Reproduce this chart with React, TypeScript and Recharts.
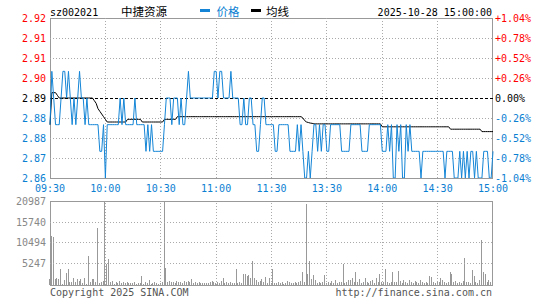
import React from 'react';
import { ComposedChart, BarChart, Line, Bar, XAxis, YAxis, ReferenceLine, ReferenceArea } from 'recharts';

const PREV_CLOSE = 2.89;

const PRICE = [
  2.88,2.90,2.89,2.88,2.88,2.88,2.89,2.90,2.90,2.89,
  2.90,2.89,2.88,2.89,2.88,2.89,2.90,2.89,2.89,2.88,
  2.89,2.88,2.88,2.88,2.88,2.88,2.88,2.87,2.87,2.88,
  2.86,2.88,2.88,2.88,2.88,2.88,2.88,2.88,2.89,2.88,
  2.89,2.88,2.88,2.88,2.88,2.88,2.89,2.88,2.88,2.88,
  2.88,2.88,2.87,2.88,2.87,2.88,2.87,2.87,2.87,2.87,
  2.87,2.87,2.88,2.89,2.89,2.89,2.88,2.89,2.89,2.89,
  2.88,2.89,2.88,2.88,2.89,2.90,2.89,2.89,2.89,2.89,
  2.89,2.89,2.89,2.89,2.89,2.89,2.89,2.89,2.89,2.90,
  2.90,2.89,2.90,2.90,2.89,2.89,2.89,2.89,2.90,2.89,
  2.89,2.89,2.89,2.88,2.88,2.89,2.88,2.88,2.89,2.89,
  2.88,2.88,2.87,2.87,2.88,2.89,2.89,2.88,2.88,2.88,
  2.88,2.88,2.87,2.87,2.88,2.88,2.88,2.88,2.88,2.88,
  2.87,2.87,2.87,2.87,2.88,2.87,2.88,2.87,2.86,2.86,
  2.87,2.86,2.87,2.88,2.88,2.87,2.88,2.87,2.88,2.88,
  2.87,2.87,2.88,2.88,2.88,2.88,2.88,2.88,2.87,2.87,
  2.87,2.87,2.87,2.88,2.88,2.88,2.88,2.88,2.88,2.87,
  2.87,2.87,2.87,2.88,2.88,2.88,2.88,2.88,2.88,2.88,
  2.87,2.87,2.87,2.88,2.87,2.88,2.86,2.86,2.88,2.87,
  2.88,2.86,2.86,2.88,2.87,2.88,2.87,2.87,2.87,2.87,
  2.87,2.86,2.87,2.87,2.87,2.87,2.87,2.87,2.87,2.87,
  2.87,2.87,2.87,2.87,2.86,2.87,2.87,2.87,2.87,2.86,
  2.86,2.86,2.87,2.86,2.87,2.86,2.87,2.86,2.87,2.87,
  2.86,2.87,2.86,2.86,2.86,2.87,2.87,2.87,2.86,2.86,
  2.87,
];

const AVG = [
  2.880,2.892,2.892,2.892,2.891,2.890,2.890,2.890,2.890,2.890,
  2.890,2.890,2.890,2.890,2.890,2.890,2.890,2.890,2.890,2.890,
  2.890,2.890,2.890,2.890,2.889,2.888,2.886,2.885,2.884,2.883,
  2.882,2.881,2.881,2.881,2.881,2.881,2.881,2.881,2.881,2.881,
  2.881,2.881,2.882,2.882,2.882,2.882,2.882,2.882,2.882,2.882,
  2.881,2.881,2.881,2.881,2.881,2.881,2.881,2.881,2.881,2.881,
  2.881,2.881,2.882,2.882,2.882,2.882,2.882,2.882,2.882,2.883,
  2.883,2.883,2.883,2.883,2.883,2.883,2.883,2.883,2.883,2.883,
  2.883,2.883,2.883,2.883,2.883,2.883,2.883,2.883,2.883,2.883,
  2.883,2.883,2.883,2.883,2.883,2.883,2.883,2.883,2.883,2.883,
  2.883,2.883,2.883,2.883,2.883,2.883,2.883,2.883,2.883,2.883,
  2.883,2.883,2.883,2.883,2.883,2.883,2.883,2.883,2.883,2.883,
  2.883,2.883,2.883,2.883,2.883,2.883,2.883,2.883,2.883,2.883,
  2.883,2.883,2.883,2.883,2.883,2.883,2.883,2.8825,2.8815,2.881,
  2.8808,2.8806,2.8805,2.8803,2.8803,2.8803,2.8803,2.8803,2.8803,2.8803,
  2.8803,2.8803,2.8803,2.8803,2.8803,2.8803,2.8803,2.8803,2.8803,2.8803,
  2.8803,2.8803,2.8803,2.8803,2.8803,2.8803,2.8803,2.8803,2.8803,2.8803,
  2.8803,2.8803,2.8803,2.8803,2.8803,2.8803,2.8803,2.8803,2.8803,2.8803,
  2.8792,2.8792,2.8792,2.8792,2.8792,2.8792,2.8792,2.8792,2.8792,2.8792,
  2.8792,2.8792,2.8792,2.8792,2.8792,2.8792,2.8792,2.8792,2.8792,2.8792,
  2.8792,2.8792,2.8792,2.8792,2.8792,2.8792,2.8792,2.8792,2.8792,2.8792,
  2.8792,2.8792,2.8792,2.8792,2.8792,2.8792,2.8792,2.8783,2.8783,2.8783,
  2.8783,2.8783,2.8783,2.8783,2.8783,2.8783,2.8783,2.8783,2.8783,2.8783,
  2.8783,2.8783,2.8783,2.8783,2.8774,2.8774,2.8774,2.8774,2.8774,2.8774,
  2.8774,
];

const VOLUME = [
  1500,12250,11900,1400,1650,1500,4000,250,1150,3000,
  4000,650,830,1650,830,1400,1000,1500,500,1750,
  330,7250,830,1400,1400,650,14330,500,650,1000,
  20987,5160,6500,650,1000,330,830,500,900,580,
  650,500,650,500,580,500,650,330,500,580,
  2300,330,830,500,1250,330,500,650,500,330,
  500,650,20987,4300,830,1000,650,830,580,900,
  650,830,500,900,650,1000,650,1500,580,830,
  500,650,420,500,580,580,420,830,1000,750,
  500,650,500,1000,1830,420,650,580,650,500,
  580,4000,420,650,500,2750,2670,2250,2500,1670,
  6000,1830,1170,830,1000,1420,750,2080,580,1670,
  420,4000,580,420,830,500,650,330,500,900,
  650,420,580,830,500,650,1000,3170,830,20250,
  2830,6000,1500,2500,1170,580,830,420,650,2500,
  500,650,420,1000,580,1170,500,650,830,5160,
  580,830,1330,1250,1670,830,3170,650,1500,580,
  830,1830,830,500,1000,1170,580,1670,650,2670,
  670,830,4000,670,580,670,3170,830,830,3500,
  1000,580,1250,830,500,1170,670,420,1000,830,
  580,1250,670,500,830,580,2330,2080,830,500,
  830,670,1830,1250,670,500,670,3170,2670,830,
  1000,580,830,420,1000,6750,670,830,500,3750,
  2330,670,500,1170,11250,3170,2750,830,1170,670,
  1000,
];

const TIME_TICKS = [0, 30, 60, 90, 120, 150, 180, 210, 240];
const TIME_LABELS = ['09:30', '10:00', '10:30', '11:00', '11:30', '13:30', '14:00', '14:30', '15:00'];
const PRICE_TICKS = [2.86, 2.8675, 2.875, 2.8825, 2.89, 2.8975, 2.905, 2.9125, 2.92];
const PRICE_LABELS = ['2.86', '2.87', '2.88', '2.88', '2.89', '2.90', '2.91', '2.91', '2.92'];
const PCT_LABELS = ['-1.04%', '-0.78%', '-0.52%', '-0.26%', '0.00%', '+0.26%', '+0.52%', '+0.78%', '+1.04%'];
const VOL_TICKS = [0, 5247, 10494, 15740, 20987];
const VOL_LABELS = ['', '5247', '10494', '15740', '20987'];

const MONO = '"DejaVu Sans Mono", monospace';
const CJK = '"Noto Sans CJK SC", sans-serif';
const RED = '#ff0000';
const BLUE = '#0b80d2';
const LINE_BLUE = '#1485d6';
const GRID = '#aaaaaa';
const BORDER = '#999999';
const VOL_GRAY = '#999999';

const data = PRICE.map((p, i) => ({ i, price: p, avg: AVG[i], vol: VOLUME[i] }));

const colorFor = (idx: number) => (idx < 4 ? BLUE : idx > 4 ? RED : '#000');

const TimeTick = (props: any) => {
  const { x, y, payload } = props;
  const idx = TIME_TICKS.indexOf(payload.value);
  return (
    <text x={x} y={y} dy={14} textAnchor="middle" fill={BLUE} fontSize={10} fontFamily={MONO}>
      {TIME_LABELS[idx]}
    </text>
  );
};

const LeftTick = (props: any) => {
  const { x, y, payload } = props;
  const idx = PRICE_TICKS.indexOf(payload.value);
  return (
    <text x={x} y={y} dy={3.5} textAnchor="end" fill={colorFor(idx)} fontSize={10} fontFamily={MONO}>
      {PRICE_LABELS[idx]}
    </text>
  );
};

const RightTick = (props: any) => {
  const { x, y, payload } = props;
  const idx = PRICE_TICKS.indexOf(payload.value);
  return (
    <text x={x} y={y} dy={3.5} textAnchor="start" fill={colorFor(idx)} fontSize={10} fontFamily={MONO}>
      {PCT_LABELS[idx]}
    </text>
  );
};

const VolTick = (props: any) => {
  const { x, y, payload } = props;
  const idx = VOL_TICKS.indexOf(payload.value);
  return (
    <text x={x} y={y} dy={3.5} textAnchor="end" fill="#888" fontSize={10} fontFamily={MONO}>
      {VOL_LABELS[idx]}
    </text>
  );
};

const BorderShape = (props: any) => {
  const { x, y, width, height } = props;
  return (
    <rect x={Math.round(x) + 0.5} y={Math.round(y) + 0.5} width={Math.round(width) - 1} height={Math.round(height)}
      fill="none" stroke={BORDER} strokeWidth={1} />
  );
};

const VolBar = (props: any) => {
  const { x, y, width, height } = props;
  if (!height || height <= 0) return null;
  const cx = Math.floor(x + width / 2);
  const top = Math.round(y);
  const bottom = Math.round(y + height);
  return <rect x={cx} y={top} width={1} height={Math.max(1, bottom - top)} fill={VOL_GRAY} />;
};

const VGRID = TIME_TICKS.slice(1, -1);
const PGRID = PRICE_TICKS.filter((t) => t !== PRICE_TICKS[0] && t !== PRICE_TICKS[PRICE_TICKS.length - 1] && t !== PREV_CLOSE);
const VOLGRID = VOL_TICKS.slice(1, -1);

export default function App() {
  return (
    <div style={{ position: 'fixed', left: 0, top: 0, width: 545, height: 300, background: '#fff', overflow: 'hidden' }}>
      <div style={{ position: 'absolute', left: 0, top: 0 }}>
        <ComposedChart width={545} height={200} data={data} margin={{ top: 18, right: 0, bottom: 0, left: 0 }}>
          <XAxis dataKey="i" type="number" domain={[0, 240]} ticks={TIME_TICKS} interval={0}
            axisLine={false} tickLine={false} tickSize={0} tickMargin={0} height={22} tick={(p: any) => <TimeTick {...p} />} />
          <YAxis yAxisId="p" orientation="left" width={50} domain={[2.86, 2.92]} ticks={PRICE_TICKS} interval={0}
            allowDataOverflow axisLine={false} tickLine={false} tickSize={0} tickMargin={4} tick={(p: any) => <LeftTick {...p} />} />
          <YAxis yAxisId="r" orientation="right" width={52} domain={[2.86, 2.92]} ticks={PRICE_TICKS} interval={0}
            allowDataOverflow axisLine={false} tickLine={false} tickSize={0} tickMargin={2} tick={(p: any) => <RightTick {...p} />} />
          {VGRID.map((v) => (
            <ReferenceLine key={'v' + v} yAxisId="p" x={v} stroke={GRID} strokeDasharray="1 2" shapeRendering="crispEdges" />
          ))}
          {PGRID.map((v) => (
            <ReferenceLine key={'h' + v} yAxisId="p" y={v} stroke={GRID} strokeDasharray="1 2" shapeRendering="crispEdges" />
          ))}
          <ReferenceLine yAxisId="p" y={PREV_CLOSE} stroke="#000" strokeDasharray="3 2" shapeRendering="crispEdges" />
          <ReferenceArea yAxisId="p" x1={0} x2={240} y1={2.86} y2={2.92} shape={(p: any) => <BorderShape {...p} />} />
          <Line yAxisId="p" dataKey="avg" type="linear" stroke="#000" strokeWidth={1} dot={false} isAnimationActive={false} />
          <Line yAxisId="p" dataKey="price" type="linear" stroke={LINE_BLUE} strokeWidth={1} dot={false} isAnimationActive={false} />
        </ComposedChart>
      </div>
      <div style={{ position: 'absolute', left: 0, top: 0 }}>
        <BarChart width={545} height={300} data={data} margin={{ top: 201, right: 52, bottom: 15, left: 0 }}>
          <XAxis dataKey="i" type="number" domain={[0, 240]} hide />
          <YAxis width={50} domain={[0, 20987]} ticks={VOL_TICKS} interval={0} allowDataOverflow
            axisLine={false} tickLine={false} tickSize={0} tickMargin={4} tick={(p: any) => <VolTick {...p} />} />
          {VGRID.map((v) => (
            <ReferenceLine key={'vv' + v} x={v} stroke={GRID} strokeDasharray="1 2" shapeRendering="crispEdges" />
          ))}
          {VOLGRID.map((v) => (
            <ReferenceLine key={'vh' + v} y={v} stroke={GRID} strokeDasharray="1 2" shapeRendering="crispEdges" />
          ))}
          <ReferenceArea x1={0} x2={240} y1={0} y2={20987} shape={(p: any) => <BorderShape {...p} />} />
          <Bar dataKey="vol" fill={VOL_GRAY} barSize={1} isAnimationActive={false} shape={(p: any) => <VolBar {...p} />} />
        </BarChart>
      </div>
      <svg width={545} height={300} style={{ position: 'absolute', left: 0, top: 0, pointerEvents: 'none' }}>
        <text x={50} y={15.5} fill="#000" fontSize={10} fontFamily={MONO}>sz002021</text>
        <text x={121} y={16} fill="#000" fontSize={11.5} fontFamily={CJK}>中捷资源</text>
        <rect x={200} y={9} width={10} height={3} fill={LINE_BLUE} />
        <text x={216.5} y={16} fill={BLUE} fontSize={11.5} fontFamily={CJK}>价格</text>
        <rect x={251} y={9} width={10} height={3} fill="#000" />
        <text x={266} y={16} fill="#000" fontSize={11.5} fontFamily={CJK}>均线</text>
        <text x={492} y={15.5} textAnchor="end" fill="#000" fontSize={10} fontFamily={MONO}>2025-10-28 15:00:00</text>
        <text x={50} y={296} fill="#555" fontSize={10} fontFamily={MONO}>Copyright 2025 SINA.COM</text>
        <text x={492} y={296} textAnchor="end" fill="#555" fontSize={10} fontFamily={MONO}>http://finance.sina.com.cn</text>
      </svg>
    </div>
  );
}
